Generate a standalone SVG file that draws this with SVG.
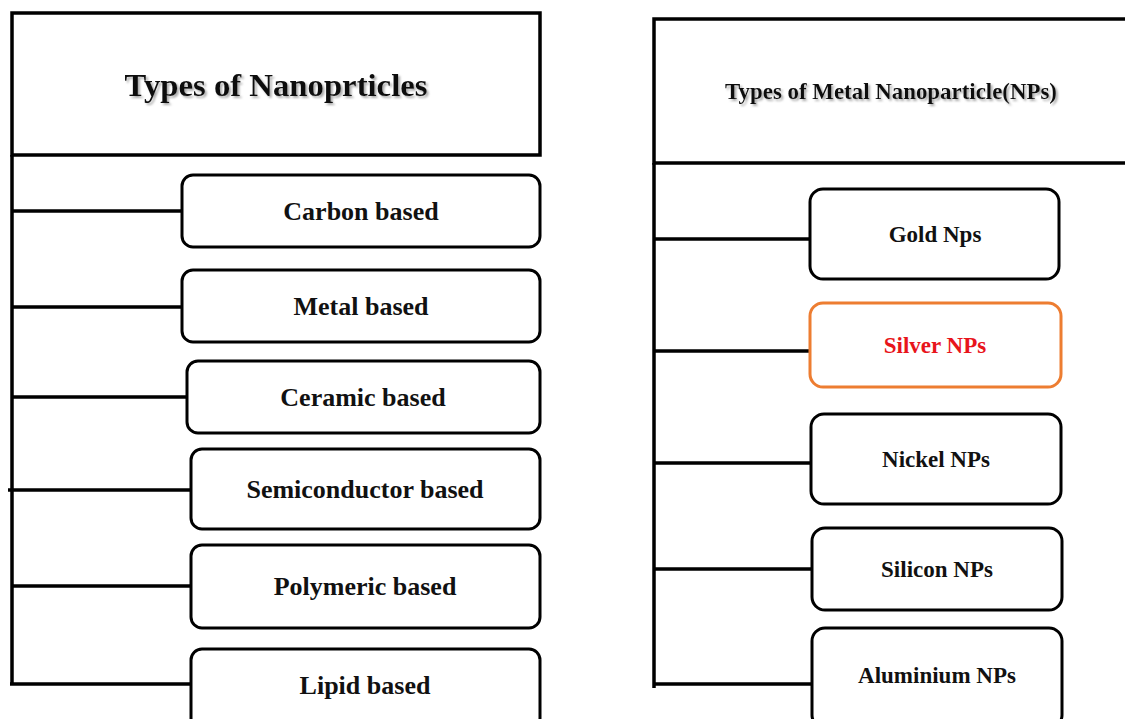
<svg xmlns="http://www.w3.org/2000/svg" width="1125" height="719" viewBox="0 0 1125 719">
<defs>
<style>
.hdr{fill:#fff;stroke:#000;stroke-width:3.5}
.box{fill:#fff;stroke:#000;stroke-width:3}
.hl{fill:#fff;stroke:#ED7D31;stroke-width:3}
.ln{stroke:#000;stroke-width:3.5;fill:none}
.t{font-family:"Liberation Serif","Times New Roman",serif;font-weight:bold;fill:#111;text-anchor:middle}
.tl{font-size:26px}
.tr{font-size:23px}
.red{fill:#E8141B}
.title{filter:url(#sh)}
</style>
<filter id="sh" x="-5%" y="-30%" width="110%" height="160%">
<feDropShadow dx="2" dy="2" stdDeviation="1.2" flood-color="#888" flood-opacity="0.7"/>
</filter>
</defs>
<rect width="1125" height="719" fill="#fff"/>
<g id="connectors">
<path class="ln" d="M12 155 V684 M10 684 H191"/>
<path class="ln" d="M12 211 H182 M12 307 H182 M12 397 H187 M8 490 H191 M12 586 H191"/>
<path class="ln" d="M654 163 V688 M654 239 H810 M654 351 H810 M654 463 H811 M654 569 H812 M654 684 H812"/>
</g>
<g id="left-title">
<rect class="hdr" x="12" y="13" width="528" height="142"/>
<text class="t title" x="276" y="96" font-size="32" textLength="303" lengthAdjust="spacingAndGlyphs">Types of Nanoprticles</text>
</g>
<g id="carbon"><rect class="box" x="182" y="175" width="358" height="72" rx="11"/><text class="t tl" x="361" y="220">Carbon based</text></g>
<g id="metal"><rect class="box" x="182" y="270" width="358" height="72" rx="11"/><text class="t tl" x="361" y="315">Metal based</text></g>
<g id="ceramic"><rect class="box" x="187" y="361" width="353" height="72" rx="11"/><text class="t tl" x="363" y="406">Ceramic based</text></g>
<g id="semiconductor"><rect class="box" x="191" y="449" width="349" height="80" rx="11"/><text class="t tl" x="365" y="498">Semiconductor based</text></g>
<g id="polymeric"><rect class="box" x="191" y="545" width="349" height="83" rx="11"/><text class="t tl" x="365" y="595">Polymeric based</text></g>
<g id="lipid"><rect class="box" x="191" y="649" width="349" height="80" rx="11"/><text class="t tl" x="365" y="694">Lipid based</text></g>
<g id="right-title">
<rect class="hdr" x="654" y="19" width="480" height="144"/>
<text class="t title" x="891" y="99" font-size="24" textLength="332" lengthAdjust="spacingAndGlyphs">Types of Metal Nanoparticle(NPs)</text>
</g>
<g id="gold"><rect class="box" x="810" y="189" width="249" height="90" rx="13"/><text class="t tr" x="935" y="242">Gold Nps</text></g>
<g id="silver"><rect class="hl" x="810" y="303" width="251" height="84" rx="13"/><text class="t tr red" x="935" y="353">Silver NPs</text></g>
<g id="nickel"><rect class="box" x="811" y="414" width="250" height="90" rx="13"/><text class="t tr" x="936" y="467">Nickel NPs</text></g>
<g id="silicon"><rect class="box" x="812" y="528" width="250" height="82" rx="13"/><text class="t tr" x="937" y="577">Silicon NPs</text></g>
<g id="aluminium"><rect class="box" x="812" y="628" width="250" height="100" rx="13"/><text class="t tr" x="937" y="683">Aluminium NPs</text></g>
</svg>
